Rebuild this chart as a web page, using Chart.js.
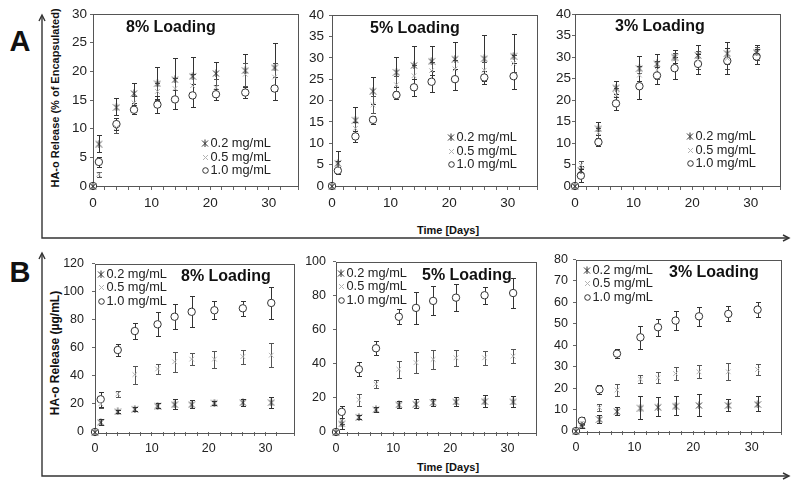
<!DOCTYPE html>
<html>
<head>
<meta charset="utf-8">
<script src="https://cdn.jsdelivr.net/npm/chart.js@4.4.1/dist/chart.umd.min.js"></script>
<style>
  html, body { margin: 0; padding: 0; background: #fff; }
  #fig { position: relative; width: 794px; height: 488px; overflow: hidden; font-family: "Liberation Sans", Arial, sans-serif; }
  #fig canvas { position: absolute; }
  .lbl { position: absolute; font-weight: bold; color: #111; white-space: nowrap; line-height: 1; transform: translate(-50%, -50%); }
  .rot { transform: translate(-50%, -50%) rotate(-90deg); }
</style>
</head>
<body>
<div id="fig">
  <svg width="794" height="488" style="position:absolute;left:0;top:0">
    <g stroke="#333" stroke-width="1.4" fill="none">
      <polyline points="42,16 42,238 788,238"/>
      <polyline points="42,254 42,476 788,476"/>
      <polyline points="39,21 42,15 45,21"/>
      <polyline points="39,259 42,253 45,259"/>
      <polyline points="783,235 789,238 783,241"/>
      <polyline points="783,473 789,476 783,479"/>
    </g>
  </svg>
  <div class="lbl" style="left:20px;top:41px;font-size:29px">A</div>
  <div class="lbl" style="left:20px;top:272px;font-size:29px">B</div>
  <div class="lbl rot" style="left:55px;top:98px;font-size:11px">HA-o Release (% of Encapsulated)</div>
  <div class="lbl rot" style="left:55px;top:353px;font-size:12px">HA-o Release (µg/mL)</div>
  <div class="lbl" style="left:448px;top:230px;font-size:11px">Time [Days]</div>
  <div class="lbl" style="left:448px;top:467px;font-size:11px">Time [Days]</div>
</div>
<script>
var days = [0, 1, 4, 7, 11, 14, 17, 21, 26, 31];
var concLabels = ['0.2 mg/mL', '0.5 mg/mL', '1.0 mg/mL'];
var panelTitles = ['8% Loading', '5% Loading', '3% Loading', '8% Loading', '5% Loading', '3% Loading'];
var yMaxes = [30, 40, 40, 120, 100, 80];
var ySteps = [5, 5, 5, 20, 10, 10];
var xMax = 35;

// A: cumulative release, % of encapsulated
var pct8Low = [0, 7.4, 13.8, 16.2, 17.9, 18.6, 19.2, 19.7, 20.2, 20.7];
var pct8LowErr = [0, 1.5, 1.5, 1.8, 2.8, 3.8, 3.3, 2.0, 2.9, 4.2];
var pct8Mid = [0, 2.0, 10.2, 14.5, 16.5, 17.0, 17.5, 17.2, 19.5, 19.0];
var pct8MidErr = [0, 0.5, 0.9, 1.2, 1.5, 1.8, 2.0, 1.5, 2.0, 2.5];
var pct8High = [0, 4.2, 10.8, 13.3, 14.2, 15.1, 15.8, 16.0, 16.3, 17.0];
var pct8HighErr = [0, 0.8, 1.0, 0.8, 1.5, 1.7, 2.0, 1.0, 1.0, 2.0];

var pct5Low = [0, 5.4, 15.5, 22.3, 26.7, 28.3, 29.3, 29.8, 29.9, 30.5];
var pct5LowErr = [0, 2.7, 3.1, 3.1, 3.5, 4.4, 3.4, 4.0, 5.4, 5.0];
var pct5Mid = [0, 4.8, 13.5, 19.0, 23.7, 25.8, 27.0, 27.4, 27.1, 28.7];
var pct5MidErr = [0, 1.0, 1.5, 2.0, 2.0, 2.5, 2.0, 2.0, 2.0, 2.0];
var pct5High = [0, 3.6, 11.6, 15.5, 21.3, 23.1, 24.4, 25.0, 25.4, 25.7];
var pct5HighErr = [0, 0.8, 1.3, 1.0, 1.0, 2.0, 2.5, 2.5, 1.5, 3.0];

var pct3Low = [0, 3.7, 13.4, 22.9, 27.4, 28.5, 30.1, 30.5, 30.9, 31.2];
var pct3LowErr = [0, 1.0, 1.5, 1.5, 2.9, 2.3, 1.6, 2.3, 2.5, 1.5];
var pct3Mid = [0, 4.9, 12.4, 21.2, 25.8, 27.0, 29.5, 29.3, 29.7, 30.9];
var pct3MidErr = [0, 1.0, 1.2, 1.5, 2.0, 2.0, 1.5, 2.0, 2.5, 1.5];
var pct3High = [0, 2.4, 10.2, 19.2, 23.2, 25.7, 27.4, 28.4, 29.1, 30.1];
var pct3HighErr = [0, 1.5, 1.0, 1.5, 3.0, 2.0, 2.5, 2.4, 3.0, 1.8];

// B: concentration in release medium, ug/mL
var conc8Low = [0, 7.2, 14.7, 16.5, 18.8, 19.8, 19.8, 20.9, 21.2, 21.2];
var conc8LowErr = [0, 2.0, 1.0, 1.5, 2.0, 3.5, 3.0, 1.5, 2.5, 4.0];
var conc8Mid = [0, 20.0, 27.0, 40.9, 44.9, 50.0, 51.9, 51.9, 53.7, 54.7];
var conc8MidErr = [0, 3.0, 2.0, 6.4, 3.5, 7.0, 4.5, 6.0, 5.0, 8.5];
var conc8High = [0, 23.3, 58.4, 71.9, 76.7, 82.1, 85.6, 86.7, 88.1, 91.9];
var conc8HighErr = [0, 5.5, 4.5, 5.5, 8.5, 9.0, 11.0, 6.5, 5.5, 11.5];

var conc5Low = [0, 5.0, 8.9, 13.3, 16.2, 16.6, 17.5, 17.9, 18.1, 17.9];
var conc5LowErr = [0, 3.0, 1.0, 1.5, 2.0, 2.5, 2.0, 2.5, 3.5, 3.0];
var conc5Mid = [0, 6.5, 18.9, 28.1, 36.8, 40.7, 42.6, 43.5, 43.5, 44.5];
var conc5MidErr = [0, 2.0, 3.5, 2.5, 5.0, 6.0, 5.5, 4.5, 4.0, 4.0];
var conc5High = [0, 11.8, 36.8, 49.1, 67.6, 72.8, 76.9, 78.8, 80.2, 81.5];
var conc5HighErr = [0, 3.5, 4.0, 4.0, 4.5, 9.5, 8.5, 8.0, 5.0, 9.0];

var conc3Low = [0, 2.8, 5.6, 9.3, 10.9, 11.3, 11.8, 12.1, 12.1, 12.6];
var conc3LowErr = [0, 1.5, 2.0, 2.0, 5.5, 4.5, 4.5, 5.0, 3.0, 3.5];
var conc3Mid = [0, 3.6, 10.9, 19.1, 24.2, 24.8, 26.8, 27.6, 27.6, 28.7];
var conc3MidErr = [0, 1.0, 1.5, 3.0, 2.0, 2.5, 3.0, 3.0, 4.0, 2.5];
var conc3High = [0, 4.8, 19.4, 36.1, 43.7, 48.4, 51.5, 53.5, 54.6, 56.6];
var conc3HighErr = [0, 1.5, 2.0, 2.0, 5.5, 4.0, 4.5, 4.5, 3.5, 3.5];

var panelSeries = [
  [[pct8Low, pct8LowErr], [pct8Mid, pct8MidErr], [pct8High, pct8HighErr]],
  [[pct5Low, pct5LowErr], [pct5Mid, pct5MidErr], [pct5High, pct5HighErr]],
  [[pct3Low, pct3LowErr], [pct3Mid, pct3MidErr], [pct3High, pct3HighErr]],
  [[conc8Low, conc8LowErr], [conc8Mid, conc8MidErr], [conc8High, conc8HighErr]],
  [[conc5Low, conc5LowErr], [conc5Mid, conc5MidErr], [conc5High, conc5HighErr]],
  [[conc3Low, conc3LowErr], [conc3Mid, conc3MidErr], [conc3High, conc3HighErr]]
];

// layout: plot area of each panel on the page, plus title/legend offsets inside it
var panelBoxes = [
  {l: 93, r: 298, t: 14, b: 186}, {l: 332, r: 537, t: 14, b: 186}, {l: 575, r: 780, t: 14, b: 186},
  {l: 95, r: 294, t: 260, b: 432}, {l: 336, r: 536, t: 259, b: 432}, {l: 576, r: 781, t: 259, b: 431}
];
var titleOffsets = [[33, 14], [38, 13], [40, 13], [86, 13], [86, 14], [93, 13]];
// legend: marker x offset from left, first row y (negative = from bottom)
var legendOffsets = [[112, -43], [119, -49], [115, -50], [6, 10], [5, 11], [11, 10]];
var yTickPad = [3, 5, 1, 8, 7, 5];

var PAD_L = 44, PAD_T = 12, PAD_R = 6, PAD_B = 30;
Chart.defaults.font.family = "'Liberation Sans', Arial, sans-serif";

// Excel-like "star" marker: an x with a vertical stroke through it
var starImg = document.createElement('canvas');
starImg.width = 8; starImg.height = 8;
(function () {
  var g = starImg.getContext('2d');
  g.strokeStyle = '#333';
  g.lineWidth = 1;
  g.beginPath();
  g.moveTo(1, 1.5); g.lineTo(7, 7.5);
  g.moveTo(7, 1.5); g.lineTo(1, 7.5);
  g.moveTo(4, 0.5); g.lineTo(4, 8);
  g.stroke();
})();

var markerStyles = [
  {pointStyle: starImg, pointRadius: 4},
  {pointStyle: 'crossRot', pointRadius: 3.3, pointBorderColor: '#b3b3b3', pointBorderWidth: 1},
  {pointStyle: 'circle', pointRadius: 3.7, pointBorderColor: '#333', pointBackgroundColor: '#fff', pointBorderWidth: 1}
];
var barColors = ['#333', '#555', '#333'];

function drawLegendMarker(ctx, i, x, y) {
  x = Math.round(x) + 0.5; y = Math.round(y) + 0.5;
  ctx.save();
  ctx.lineWidth = 1;
  if (i === 0) {
    ctx.drawImage(starImg, x - 4.5, y - 4.5);
  } else if (i === 1) {
    ctx.strokeStyle = '#b3b3b3';
    ctx.beginPath();
    ctx.moveTo(x - 2.5, y - 2.5); ctx.lineTo(x + 2.5, y + 2.5);
    ctx.moveTo(x + 2.5, y - 2.5); ctx.lineTo(x - 2.5, y + 2.5);
    ctx.stroke();
  } else {
    ctx.strokeStyle = '#333';
    ctx.fillStyle = '#fff';
    ctx.beginPath(); ctx.arc(x, y, 2.8, 0, Math.PI * 2); ctx.fill(); ctx.stroke();
  }
  ctx.restore();
}

var panelDecor = {
  id: 'panelDecor',
  beforeDatasetsDraw: function (chart) {
    var ctx = chart.ctx, a = chart.chartArea;
    var xs = chart.scales.x, ys = chart.scales.y;
    ctx.save();
    ctx.strokeStyle = '#555';
    ctx.lineWidth = 1;
    ctx.strokeRect(Math.round(a.left) + 0.5, Math.round(a.top) + 0.5, Math.round(a.right - a.left), Math.round(a.bottom - a.top));
    // error bars
    chart.data.datasets.forEach(function (ds, i) {
      ctx.strokeStyle = barColors[i];
      ctx.beginPath();
      ds.data.forEach(function (p, j) {
        var e = ds.errors[j];
        if (!e) return;
        var px = Math.round(xs.getPixelForValue(p.x)) + 0.5;
        var top = Math.round(ys.getPixelForValue(p.y + e)) + 0.5;
        var bot = Math.round(ys.getPixelForValue(p.y - e)) + 0.5;
        ctx.moveTo(px, top); ctx.lineTo(px, bot);
        ctx.moveTo(px - 2.5, top); ctx.lineTo(px + 2.5, top);
        ctx.moveTo(px - 2.5, bot); ctx.lineTo(px + 2.5, bot);
      });
      ctx.stroke();
    });
    ctx.restore();
  },
  afterDatasetsDraw: function (chart, args, opts) {
    var ctx = chart.ctx, a = chart.chartArea;
    ctx.save();
    ctx.fillStyle = '#111';
    ctx.textBaseline = 'middle';
    ctx.textAlign = 'left';
    ctx.font = "bold 16px 'Liberation Sans', Arial, sans-serif";
    ctx.fillText(opts.title, a.left + opts.titleAt[0], a.top + opts.titleAt[1]);
    var ly0 = opts.legendAt[1] < 0 ? a.bottom + opts.legendAt[1] : a.top + opts.legendAt[1];
    ctx.font = "12.8px 'Liberation Sans', Arial, sans-serif";
    ctx.fillStyle = '#222';
    chart.data.datasets.forEach(function (ds, i) {
      var mx = a.left + opts.legendAt[0], my = ly0 + i * 13.5;
      drawLegendMarker(ctx, i, mx, my);
      ctx.fillText(ds.label, mx + 5.5, my + 0.5);
    });
    ctx.restore();
  }
};

panelBoxes.forEach(function (box, k) {
  var cv = document.createElement('canvas');
  var w = box.r - box.l + PAD_L + PAD_R, h = box.b - box.t + PAD_T + PAD_B;
  cv.width = w; cv.height = h;
  cv.style.left = (box.l - PAD_L) + 'px';
  cv.style.top = (box.t - PAD_T) + 'px';
  document.getElementById('fig').appendChild(cv);
  var tickSize = k < 3 ? 13.5 : 12.5;

  var datasets = panelSeries[k].map(function (s, i) {
    return Object.assign({
      label: concLabels[i],
      data: days.map(function (d, j) { return {x: d, y: s[0][j]}; }),
      errors: s[1],
      showLine: false,
      clip: false
    }, markerStyles[i]);
  });

  new Chart(cv, {
    type: 'scatter',
    data: {datasets: datasets},
    options: {
      responsive: false,
      animation: false,
      events: [],
      layout: {padding: {top: PAD_T, right: PAD_R, left: 0, bottom: 0}},
      plugins: {
        legend: {display: false},
        tooltip: {enabled: false},
        panelDecor: {title: panelTitles[k], titleAt: titleOffsets[k], legendAt: legendOffsets[k]}
      },
      scales: {
        x: {
          type: 'linear', min: 0, max: xMax,
          afterFit: function (s) { s.height = PAD_B; },
          border: {display: false},
          grid: {drawOnChartArea: false, tickLength: 4, color: '#666'},
          ticks: {
            stepSize: 2, autoSkip: false, maxRotation: 0, padding: 5, color: '#222',
            font: {size: tickSize},
            callback: function (v) { return v % 10 === 0 ? v : ''; }
          }
        },
        y: {
          min: 0, max: yMaxes[k],
          afterFit: function (s) { s.width = PAD_L; },
          border: {display: false},
          grid: {drawOnChartArea: false, tickLength: 3, color: '#666'},
          ticks: {stepSize: ySteps[k], padding: yTickPad[k], color: '#222', font: {size: tickSize}}
        }
      }
    },
    plugins: [panelDecor]
  });
});
</script>
</body>
</html>
